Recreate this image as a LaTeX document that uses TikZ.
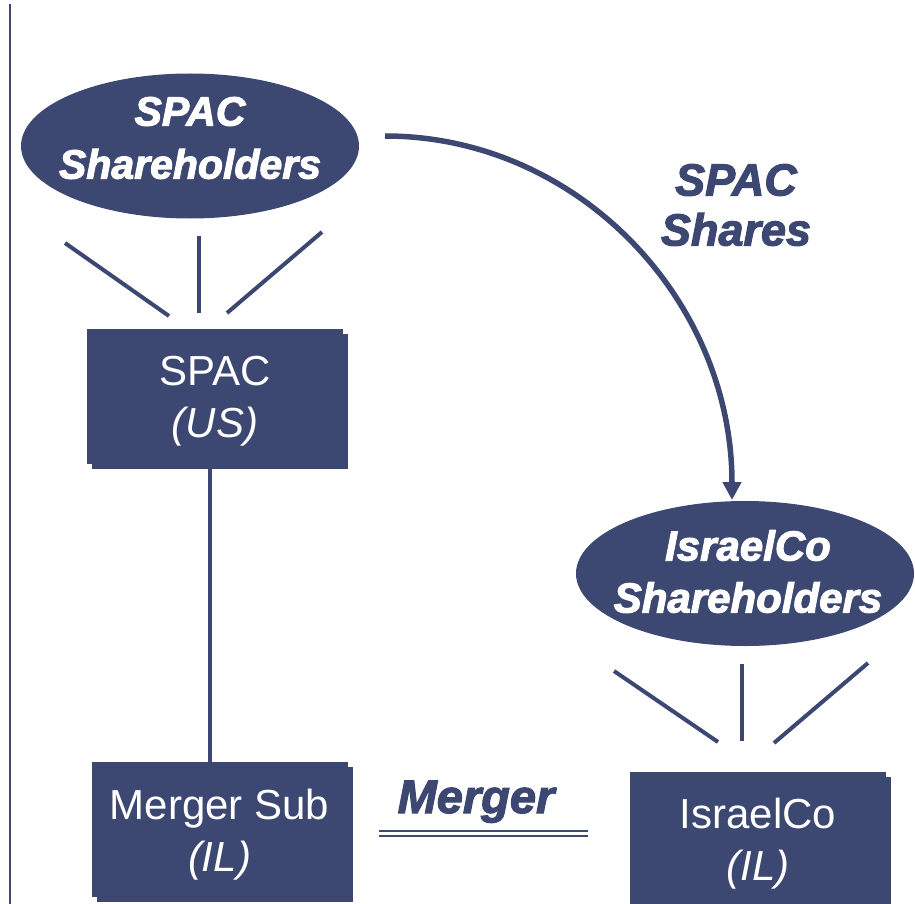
\documentclass[tikz,border=0pt]{standalone}
\usepackage{fontspec}
\setmainfont{Liberation Sans}
\newfontfamily\blackfont{Liberation Sans Bold Italic}[FakeBold=2.5]
\usetikzlibrary{shapes.geometric,arrows.meta,shadows}
\definecolor{navy}{RGB}{60,71,114}

\begin{document}
\begin{tikzpicture}[x=1pt,y=-1pt,
  every node/.style={inner sep=0pt, outer sep=0pt},
  holders/.style={ellipse, fill=navy, minimum width=338pt, minimum height=145pt},
  entity/.style={rectangle, fill=navy, minimum width=256pt, minimum height=135pt,
    drop shadow={shadow xshift=5pt, shadow yshift=-5pt, fill=navy, opacity=1}},
  boxtext/.style={text=white, align=center, font=\fontsize{42}{52}\selectfont, yshift=-5pt},
  heavy/.style={align=center, font=\fontsize{41}{53}\selectfont\blackfont},
  fan/.style={draw=navy, line width=4pt},
  link/.style={draw=navy, line width=4pt},
]
\useasboundingbox (0,0) rectangle (915,904);

% page rule on the left
\draw[navy, line width=2.2pt] (10,4) -- (10,904);

% shareholder groups
\node[holders] (spacsh) at (190,146) {};
\node[heavy, text=white] (spacshtxt) at (190,138) {SPAC\\Shareholders};
\node[holders] (isrsh) at (745,573.5) {};
\node[heavy, text=white, font=\fontsize{42}{52}\selectfont\blackfont]
  (isrshtxt) at (748,571.5) {IsraelCo\\Shareholders};

% companies
\node[entity] (spac) at (215,396.5) {};
\node[boxtext] (spactxt) at (spac) {SPAC\\\textit{(US)}};
\node[entity] (msub) at (219.5,829.5) {};
\node[boxtext] (msubtxt) at (msub) {Merger Sub\\\textit{(IL)}};
\node[entity, drop shadow={shadow xshift=3pt, shadow yshift=-5pt, fill=navy, opacity=1}]
  (isr) at (758,839) {};
\node[boxtext] (isrtxt) at (isr) {IsraelCo\\\textit{(IL)}};

% ownership fans
\coordinate (a1) at (65,243);  \coordinate (a2) at (169,316);
\coordinate (b1) at (199,236); \coordinate (b2) at (199,313);
\coordinate (c1) at (322,232); \coordinate (c2) at (227,313);
\draw[fan] (a1) -- (a2);
\draw[fan] (b1) -- (b2);
\draw[fan] (c1) -- (c2);

\coordinate (d1) at (614,671); \coordinate (d2) at (718,742);
\coordinate (e1) at (742,664); \coordinate (e2) at (742,741);
\coordinate (f1) at (868,663); \coordinate (f2) at (774,743);
\draw[fan] (d1) -- (d2);
\draw[fan] (e1) -- (e2);
\draw[fan] (f1) -- (f2);

% SPAC owns Merger Sub
\coordinate (vx) at (210,0);
\draw[link] (spac.south -| vx) -- (msub.north -| vx);

% share exchange arrow
\coordinate (sharesout) at (385,136);
\coordinate (sharesin) at (732,500);
\draw[navy, line width=5.5pt, -{Triangle[length=18pt,width=18pt]}]
  (sharesout) .. controls (577,136) and (732,299) .. (sharesin);
\node[heavy, text=navy, font=\fontsize{45}{50}\selectfont\blackfont]
  (shareslbl) at (736,205) {SPAC\\Shares};

% merger of Merger Sub into IsraelCo
\coordinate (m1) at (379,833.5);
\coordinate (m2) at (588,833.5);
\draw[navy, line width=2.4pt, double=white, double distance=2.8pt] (m1) -- (m2);
\node[anchor=base, text=navy, font=\fontsize{47}{50}\selectfont\blackfont]
  (mergerlbl) at (476,813) {Merger};
\end{tikzpicture}
\end{document}
